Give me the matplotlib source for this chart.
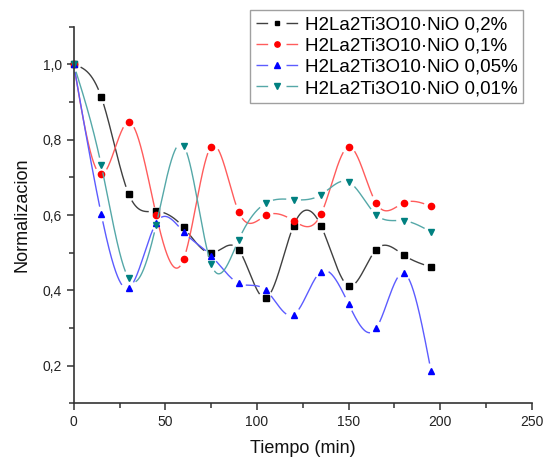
import numpy as np
import matplotlib
matplotlib.use("Agg")
import matplotlib.pyplot as plt
from matplotlib.ticker import MultipleLocator, FuncFormatter
from matplotlib.lines import Line2D

plt.rcParams['font.family'] = ['Liberation Sans', 'DejaVu Sans']

tiempo = [0, 15, 30, 45, 60, 75, 90, 105, 120, 135, 150, 165, 180, 195]
nio_02 = [1.0, 0.914, 0.656, 0.610, 0.567, 0.499, 0.508, 0.380, 0.572, 0.571, 0.412, 0.508, 0.494, 0.462]
nio_01 = [1.0, 0.708, 0.847, 0.601, 0.483, 0.782, 0.609, 0.599, 0.585, 0.603, 0.781, 0.632, 0.632, 0.623]
nio_005 = [1.0, 0.603, 0.406, 0.579, 0.555, 0.492, 0.419, 0.400, 0.335, 0.450, 0.364, 0.299, 0.446, 0.186]
nio_001 = [1.0, 0.733, 0.432, 0.574, 0.784, 0.470, 0.534, 0.632, 0.641, 0.654, 0.688, 0.601, 0.585, 0.555]

labels = ["H2La2Ti3O10·NiO 0,2%", "H2La2Ti3O10·NiO 0,1%",
          "H2La2Ti3O10·NiO 0,05%", "H2La2Ti3O10·NiO 0,01%"]
series = [nio_02, nio_01, nio_005, nio_001]
markers = ['s', 'o', '^', 'v']
msizes = [4.0, 4.5, 5.0, 5.0]
mcolors = ['#000000', '#ff0000', '#0000ff', '#008080']
lcolors = ['#404040', '#ff5c5c', '#5c5cff', '#55a8a8']


def natural_spline(x, y, xs):
    x = np.asarray(x, float)
    y = np.asarray(y, float)
    n = len(x)
    h = np.diff(x)
    A = np.zeros((n, n))
    b = np.zeros(n)
    A[0, 0] = 1
    A[-1, -1] = 1
    for i in range(1, n - 1):
        A[i, i - 1] = h[i - 1]
        A[i, i] = 2 * (h[i - 1] + h[i])
        A[i, i + 1] = h[i]
        b[i] = 6 * ((y[i + 1] - y[i]) / h[i] - (y[i] - y[i - 1]) / h[i - 1])
    M = np.linalg.solve(A, b)
    idx = np.clip(np.searchsorted(x, xs) - 1, 0, n - 2)
    x0, x1 = x[idx], x[idx + 1]
    hh = x1 - x0
    t0 = x1 - xs
    t1 = xs - x0
    return (M[idx] * t0 ** 3 / (6 * hh) + M[idx + 1] * t1 ** 3 / (6 * hh)
            + (y[idx] / hh - M[idx] * hh / 6) * t0
            + (y[idx + 1] / hh - M[idx + 1] * hh / 6) * t1)


fig = plt.figure(figsize=(5.46, 4.61), dpi=100)
ax = fig.add_axes([0.135, 0.125, 0.839, 0.817])
ax.set_xlim(0, 250)
ax.set_ylim(0.1, 1.1)

for sp in ['top', 'right']:
    ax.spines[sp].set_visible(False)
for sp in ['left', 'bottom']:
    ax.spines[sp].set_linewidth(1.2)
    ax.spines[sp].set_color('#333333')

ax.xaxis.set_major_locator(MultipleLocator(50))
ax.xaxis.set_minor_locator(MultipleLocator(25))
ax.yaxis.set_major_locator(MultipleLocator(0.2))
ax.yaxis.set_minor_locator(MultipleLocator(0.1))
ax.yaxis.set_major_formatter(FuncFormatter(lambda v, p: ("%.1f" % v).replace('.', ',')))
ax.xaxis.set_major_formatter(FuncFormatter(lambda v, p: "%d" % v))
ax.set_yticks([0.2, 0.4, 0.6, 0.8, 1.0])
ax.tick_params(which='major', direction='out', length=5, width=1.1, labelsize=10,
               color='#333333', labelcolor='#222222')
ax.tick_params(which='minor', direction='out', length=3.4, width=1.1, color='#333333')

ax.set_xlabel("Tiempo (min)", fontsize=13, labelpad=8, color='#111111')
ax.set_ylabel("Normalizacion", fontsize=13, labelpad=9, color='#111111')

fig.canvas.draw()
gap = 8.0
xs = np.linspace(tiempo[0], tiempo[-1], 3000)
handles = []
for ys, mk, ms, mc, lc, lab in zip(series, markers, msizes, mcolors, lcolors, labels):
    yy = natural_spline(tiempo, ys, xs)
    pts = ax.transData.transform(np.column_stack([xs, yy]))
    mpts = ax.transData.transform(np.column_stack([tiempo, ys]))
    d = np.min(np.hypot(pts[:, 0][:, None] - mpts[:, 0][None, :],
                        pts[:, 1][:, None] - mpts[:, 1][None, :]), axis=1)
    ym = np.where(d < gap, np.nan, yy)
    ax.plot(xs, ym, color=lc, lw=1.0, clip_on=False)
    ax.plot(tiempo, ys, linestyle='none', marker=mk, color=mc, markersize=ms, clip_on=False)
    handles.append(Line2D([], [], color=lc, lw=1.0, marker=mk, markerfacecolor=mc,
                          markeredgecolor=mc, markersize=ms * 0.85, dashes=(8.4, 13.2)))

leg = fig.legend(handles=handles, labels=labels, loc='upper right',
                 bbox_to_anchor=(523 / 546, 1 - 10.5 / 461), fontsize=13.5,
                 frameon=True, fancybox=False, handlelength=2.25, handletextpad=0.35,
                 labelspacing=0.22, borderpad=0.3, borderaxespad=0)
leg.get_frame().set_edgecolor('#888888')
leg.get_frame().set_linewidth(1.0)

fig.savefig("out.png", dpi=100)
